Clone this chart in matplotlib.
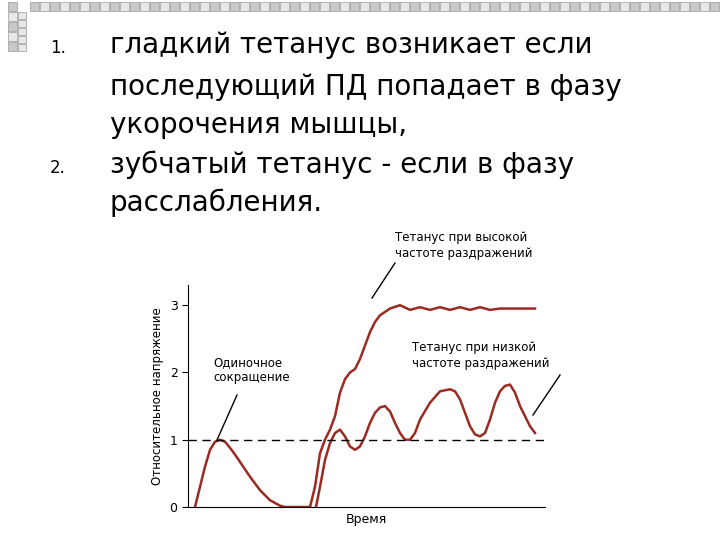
import matplotlib
matplotlib.use("Agg")
import matplotlib.pyplot as plt
from matplotlib.patches import Rectangle

twitch_t = [195,200,205,210,215,220,225,230,235,240,250,260,270,280,285,310]
twitch_v = [0,0.3,0.6,0.85,0.97,1.0,0.97,0.88,0.78,0.67,0.45,0.25,0.1,0.02,0,0]
high_t = [310,315,320,325,330,335,340,345,350,355,360,365,370,375,380,385,390,400,410,420,430,440,450,460,470,480,490,500,510,520,535]
high_v = [0,0.3,0.8,1.0,1.15,1.35,1.7,1.9,2.0,2.05,2.2,2.4,2.6,2.75,2.85,2.9,2.95,3.0,2.93,2.97,2.93,2.97,2.93,2.97,2.93,2.97,2.93,2.95,2.95,2.95,2.95]
low_t = [316,320,325,330,335,340,345,350,355,360,365,370,375,380,385,390,395,400,405,410,415,420,430,440,450,455,460,465,470,475,480,485,490,495,500,505,510,515,520,525,530,535]
low_v = [0,0.3,0.7,0.95,1.1,1.15,1.05,0.9,0.85,0.9,1.05,1.25,1.4,1.48,1.5,1.42,1.25,1.1,1.0,1.0,1.1,1.3,1.55,1.72,1.75,1.72,1.6,1.4,1.2,1.08,1.05,1.1,1.3,1.55,1.72,1.8,1.82,1.7,1.5,1.35,1.2,1.1]
yticks = [0,1,2,3]
lines = ["гладкий тетанус возникает если", "последующий ПД попадает в фазу",
         "укорочения мышцы,", "зубчатый тетанус - если в фазу", "расслабления."]
line_y = [45,87,125,165,203]

fig = plt.figure(figsize=(7.2,5.4), dpi=100)
W,H = 720,540
bg = fig.add_axes([0,0,1,1]); bg.set_xlim(0,W); bg.set_ylim(H,0); bg.axis("off")
for i in range(0,72):
    x = 30+i*10
    if x>W: break
    bg.add_patch(Rectangle((x,2),9,9,fc="#c8c8c8" if i%2==0 else "#e8e8e8",ec="#999999",lw=0.5))
for j in range(5):
    bg.add_patch(Rectangle((8,2+j*10),9,9,fc="#c8c8c8" if j%2==0 else "#e8e8e8",ec="#999999",lw=0.5))
    bg.add_patch(Rectangle((18,12+j*8),8,7,fc="#e8e8e8",ec="#999999",lw=0.5))

bg.text(50,48,"1.",fontsize=12,va="center")
bg.text(50,168,"2.",fontsize=12,va="center")
for s,y in zip(lines,line_y):
    bg.text(110,y,s,fontsize=20,va="center")

bg.text(213,370,"Одиночное\nсокращение",fontsize=8.5,va="center",linespacing=1.2)
bg.plot([237,217],[395,440],color="black",lw=1)
bg.text(395,246,"Тетанус при высокой\nчастоте раздражений",fontsize=8.5,va="center",linespacing=1.3)
bg.plot([395,372],[263,298],color="black",lw=1)
bg.text(412,356,"Тетанус при низкой\nчастоте раздражений",fontsize=8.5,va="center",linespacing=1.3)
bg.plot([560,533],[375,415],color="black",lw=1)

ax = fig.add_axes([188/W,(H-507)/H,357/W,(507-285)/H])
ax.patch.set_visible(False)
ax.set_xlim(188,545); ax.set_ylim(0,3.3)
col="#9b2a22"
ax.plot(twitch_t,twitch_v,color=col,lw=1.8)
ax.plot(high_t,high_v,color=col,lw=1.8)
ax.plot(low_t,low_v,color=col,lw=1.8)
ax.axhline(1,color="black",ls=(0,(6,4)),lw=1)
for s in ["top","right"]: ax.spines[s].set_visible(False)
ax.set_xticks([]); ax.set_yticks(yticks); ax.set_yticklabels([str(v) for v in yticks],fontsize=9)
ax.tick_params(axis="y",length=4)
ax.set_xlabel("Время",fontsize=9)
ax.set_ylabel("Относительное напряжение",fontsize=8.5)

fig.savefig("out.png",dpi=100)
